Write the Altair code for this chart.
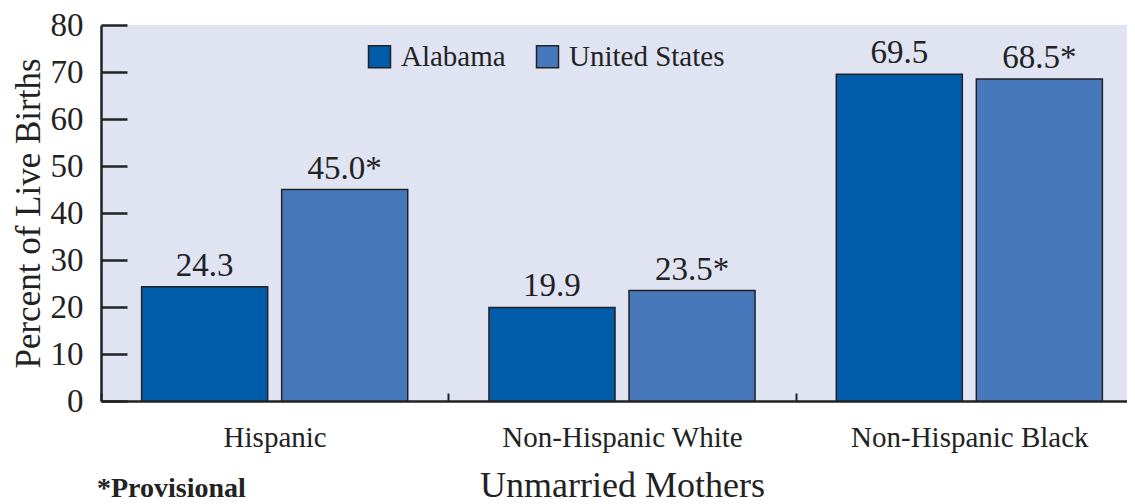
import altair as alt
import pandas as pd

groups = ["Hispanic", "Non-Hispanic White", "Non-Hispanic Black"]
areas = ["Alabama", "United States"]
alabama = [24.3, 19.9, 69.5]
united_states = [45.0, 23.5, 68.5]
alabama_labels = ["24.3", "19.9", "69.5"]
us_labels = ["45.0*", "23.5*", "68.5*"]
y_ticks = [0, 10, 20, 30, 40, 50, 60, 70, 80]
colors = ["#005ba9", "#4878bc"]
footnote = ["*Provisional"]

rows = []
for g, a, u, la, lu in zip(groups, alabama, united_states, alabama_labels, us_labels):
    rows.append({"group": g, "area": "Alabama", "value": a, "label": la})
    rows.append({"group": g, "area": "United States", "value": u, "label": lu})
df = pd.DataFrame(rows)

FONT = "Liberation Serif"
INK = "#222222"
H = 376
W = 1026

x_enc = alt.X(
    "group:N",
    sort=groups,
    scale=alt.Scale(paddingInner=0, paddingOuter=0, range=[0, 1042]),
    axis=alt.Axis(
        title="Unmarried Mothers",
        labelAngle=0,
        labelLimit=500,
        ticks=False,
        tickBand="extent",
        grid=True,
        gridDash=[8, H - 8],
        gridDashOffset=8,
        gridWidth=2,
        gridColor=INK,
        domainColor=INK,
        domainWidth=2.5,
        labelFontSize=29,
        labelPadding=22,
        titleFontSize=36,
        titleX=521,
        titleY=95,
        titleBaseline="alphabetic",
    ),
)
xoff_enc = alt.XOffset(
    "area:N", sort=areas, scale=alt.Scale(paddingInner=0.1, paddingOuter=0.29)
)
y_enc = alt.Y(
    "value:Q",
    scale=alt.Scale(domain=[0, 80], nice=False),
    axis=alt.Axis(
        values=y_ticks,
        title="Percent of Live Births",
        ticks=False,
        labelPadding=18,
        grid=True,
        gridDash=[26, 3000],
        gridColor=INK,
        gridWidth=2.5,
        domainColor=INK,
        domainWidth=2.5,
        labelFontSize=33,
        titleFontSize=35,
        titleX=-73,
        titleBaseline="middle",
    ),
)

bars = alt.Chart(df).mark_bar(stroke=INK, strokeWidth=1.5).encode(
    x=x_enc,
    xOffset=xoff_enc,
    y=y_enc,
    color=alt.Color(
        "area:N",
        sort=areas,
        scale=alt.Scale(domain=areas, range=colors),
        legend=alt.Legend(
            title=None,
            orient="none",
            legendX=264,
            legendY=17,
            direction="horizontal",
            symbolType="square",
            symbolSize=484,
            symbolStrokeColor=INK,
            symbolStrokeWidth=1.5,
            symbolOpacity=1,
            labelFontSize=29,
            labelOffset=7,
            columnPadding=27,
            padding=0,
        ),
    ),
)

labels = alt.Chart(df).mark_text(
    baseline="bottom", dy=-4, font=FONT, fontSize=33, color=INK
).encode(x=x_enc, xOffset=xoff_enc, y=y_enc, text="label:N")

note = alt.Chart(pd.DataFrame({"note": footnote})).mark_text(
    align="left", baseline="alphabetic", font=FONT, fontSize=28,
    fontWeight="bold", color=INK
).encode(x=alt.value(-4), y=alt.value(H + 96), text="note:N")

chart = (
    alt.layer(bars, labels, note)
    .properties(
        width=W,
        height=H,
        padding={"left": 93, "top": 17, "right": 0, "bottom": 103},
        autosize=alt.AutoSizeParams(type="none"),
        background="white",
    )
    .configure_view(fill="#e0e3f2", strokeWidth=0)
    .configure_axis(
        labelFont=FONT,
        titleFont=FONT,
        labelColor=INK,
        titleColor=INK,
        titleFontWeight="normal",
    )
    .configure_legend(labelFont=FONT, labelColor=INK)
)

chart.save("out.html", embed_options={"renderer": "svg", "actions": False})
